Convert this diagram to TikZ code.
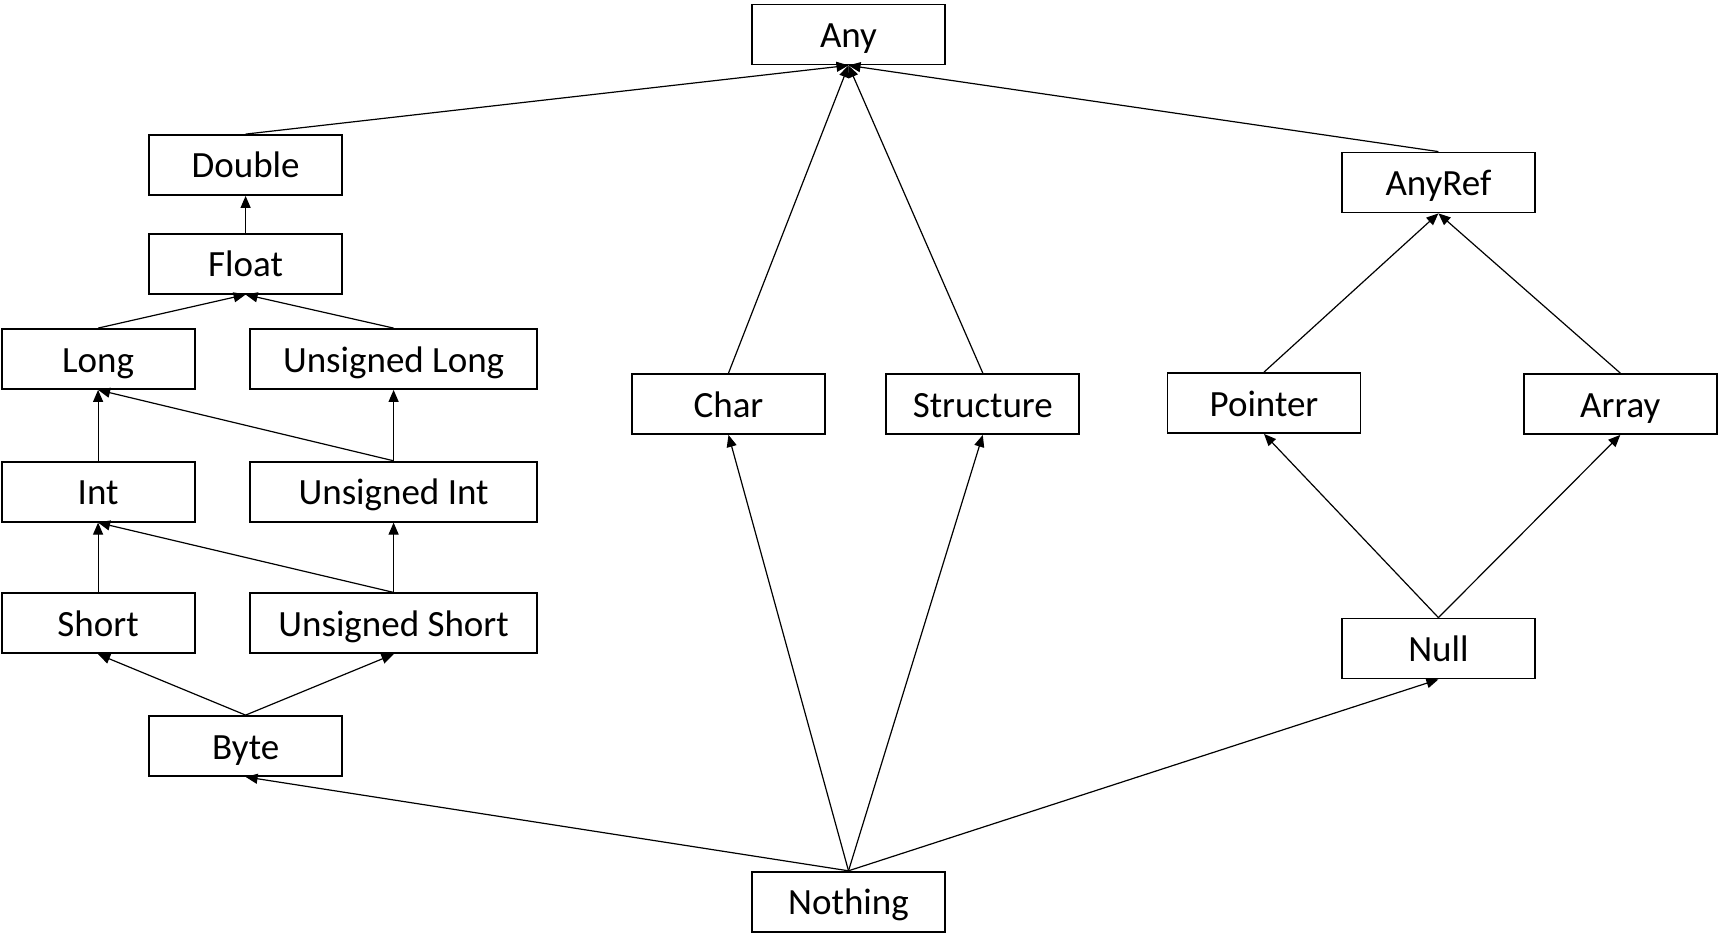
\documentclass[tikz,border=0pt]{standalone}
\usepackage{fontspec}
\setmainfont{Carlito}
\usetikzlibrary{arrows.meta}
\begin{document}
\begin{tikzpicture}[x=1pt,y=-1pt,
  box/.style={draw, line width=1.8pt, minimum width=193pt, minimum height=60pt, inner sep=0pt, text height=26pt, text depth=0pt, font=\fontsize{37}{40}\selectfont},
  wbox/.style={box, minimum width=287pt},
  edge/.style={-{Triangle[length=12pt,width=10pt]}, line width=1.2pt}]
\useasboundingbox (0,0) rectangle (1719,947);
\node[box] (any) at (848.5,34.5) {Any};
\node[box] (double) at (245.6,165) {Double};
\node[box] (float) at (245.6,263.7) {Float};
\node[box] (long) at (98.1,359) {Long};
\node[wbox] (ulong) at (393.6,359) {Unsigned Long};
\node[box] (int) at (98.1,491.7) {Int};
\node[wbox] (uint) at (393.6,491.7) {Unsigned Int};
\node[box] (short) at (98.1,623.3) {Short};
\node[wbox] (ushort) at (393.6,623.3) {Unsigned Short};
\node[box] (byte) at (245.6,746) {Byte};
\node[box] (char) at (728.5,404) {Char};
\node[box] (struct) at (982.8,404) {Structure};
\node[box] (anyref) at (1438.4,182.5) {AnyRef};
\node[box] (pointer) at (1264,403) {Pointer};
\node[box] (array) at (1620.3,404) {Array};
\node[box] (null) at (1438.4,648.5) {Null};
\node[box] (nothing) at (848.5,901.7) {Nothing};
\draw[edge] (double.north) -- (any.south);
\draw[edge] (char.north) -- (any.south);
\draw[edge] (struct.north) -- (any.south);
\draw[edge] (anyref.north) -- (any.south);
\draw[edge] (float.north) -- (double.south);
\draw[edge] (long.north) -- (float.south);
\draw[edge] (ulong.north) -- (float.south);
\draw[edge] (int.north) -- (long.south);
\draw[edge] (uint.north) -- (long.south);
\draw[edge] (uint.north) -- (ulong.south);
\draw[edge] (short.north) -- (int.south);
\draw[edge] (ushort.north) -- (int.south);
\draw[edge] (ushort.north) -- (uint.south);
\draw[edge] (byte.north) -- (short.south);
\draw[edge] (byte.north) -- (ushort.south);
\draw[edge] (pointer.north) -- (anyref.south);
\draw[edge] (array.north) -- (anyref.south);
\draw[edge] (null.north) -- (pointer.south);
\draw[edge] (null.north) -- (array.south);
\draw[edge] (nothing.north) -- (byte.south);
\draw[edge] (nothing.north) -- (char.south);
\draw[edge] (nothing.north) -- (struct.south);
\draw[edge] (nothing.north) -- (null.south);
\end{tikzpicture}
\end{document}
